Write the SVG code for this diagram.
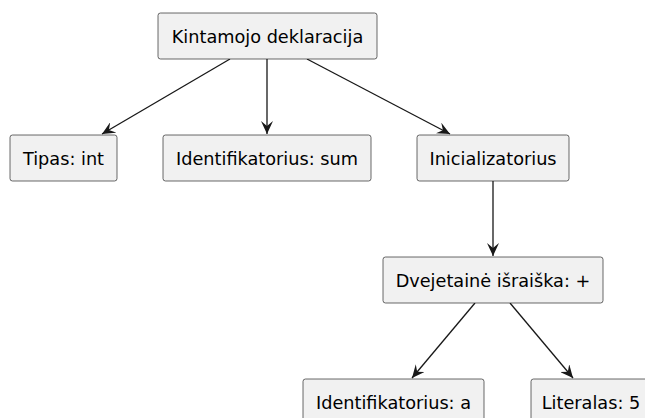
<svg xmlns="http://www.w3.org/2000/svg" width="645" height="418" viewBox="0 0 645 418">
  <style>
    .box { fill: #F1F1F1; stroke: #181818; stroke-width: 0.65; }
    .lbl { font-family: "DejaVu Sans", "Liberation Sans", sans-serif; font-size: 17.7px; fill: #000000; text-anchor: middle; }
    .edge { stroke: #181818; stroke-width: 1.3; fill: none; marker-end: url(#arrow); }
  </style>
  <defs>
    <marker id="arrow" viewBox="0 0 14 12" refX="13" refY="6" markerWidth="14" markerHeight="12" markerUnits="userSpaceOnUse" orient="auto">
      <path d="M0,0 L13,6 L0,12 L5,6 Z" fill="#181818"/>
    </marker>
  </defs>
  <rect width="645" height="418" fill="#FFFFFF"/>

  <g id="connectors">
    <line class="edge" x1="230" y1="59" x2="102" y2="134"/>
    <line class="edge" x1="267" y1="59" x2="267" y2="134"/>
    <line class="edge" x1="307" y1="59" x2="450" y2="134"/>
    <line class="edge" x1="493" y1="181" x2="493" y2="256"/>
    <line class="edge" x1="475" y1="303" x2="412" y2="378"/>
    <line class="edge" x1="510" y1="303" x2="573" y2="378"/>
  </g>

  <g id="kintamojo-deklaracija">
    <rect class="box" x="158" y="13" width="219" height="46" rx="2.5"/>
    <text class="lbl" x="267.5" y="42.5">Kintamojo deklaracija</text>
  </g>
  <g id="tipas">
    <rect class="box" x="10" y="135" width="107" height="46" rx="2.5"/>
    <text class="lbl" x="63.5" y="164.5">Tipas: int</text>
  </g>
  <g id="identifikatorius-sum">
    <rect class="box" x="163" y="135" width="208" height="46" rx="2.5"/>
    <text class="lbl" x="267" y="164.5">Identifikatorius: sum</text>
  </g>
  <g id="inicializatorius">
    <rect class="box" x="417" y="135" width="152" height="46" rx="2.5"/>
    <text class="lbl" x="493" y="164.5">Inicializatorius</text>
  </g>
  <g id="dvejetaine-israiska">
    <rect class="box" x="383" y="257" width="220" height="46" rx="2.5"/>
    <text class="lbl" x="493" y="286.5">Dvejetainė išraiška: +</text>
  </g>
  <g id="identifikatorius-a">
    <rect class="box" x="303" y="379" width="181" height="46" rx="2.5"/>
    <text class="lbl" x="393.5" y="408.5">Identifikatorius: a</text>
  </g>
  <g id="literalas">
    <rect class="box" x="531" y="379" width="120" height="46" rx="2.5"/>
    <text class="lbl" x="591" y="408.5">Literalas: 5</text>
  </g>
</svg>
